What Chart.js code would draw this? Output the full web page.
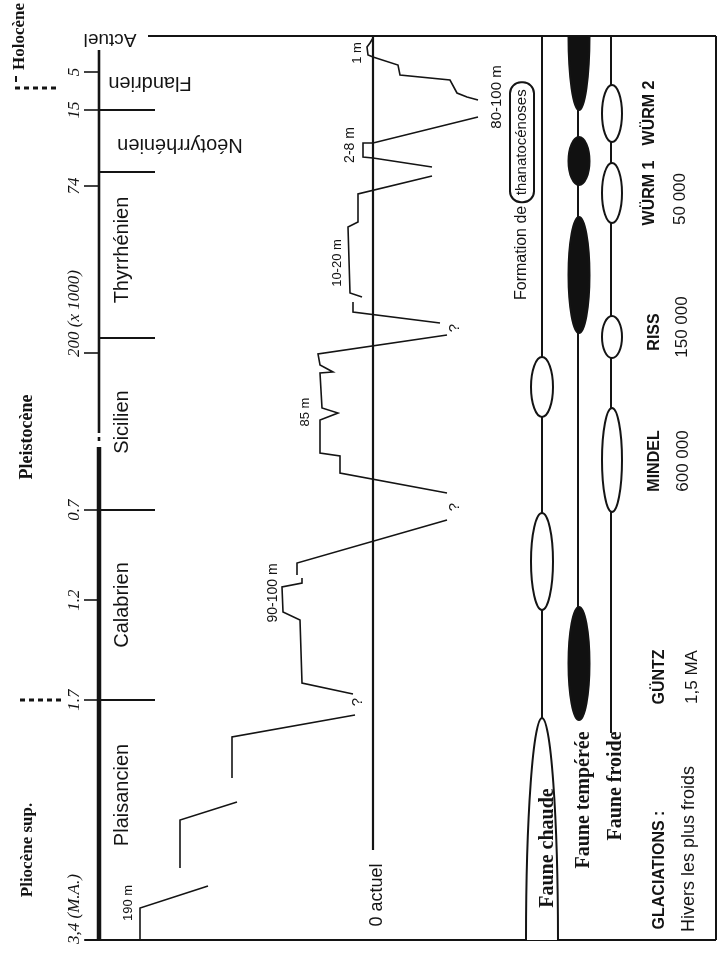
<!DOCTYPE html>
<html><head><meta charset="utf-8">
<script src="https://cdn.jsdelivr.net/npm/chart.js@4.4.1/dist/chart.umd.min.js"></script>
<style>html,body{margin:0;padding:0;background:#fff;}canvas{display:block;}</style>
</head><body>
<canvas id="c" width="721" height="962" style="width:721px;height:962px"></canvas>
<script>
// Units: x = schematic sea level relative to present (0 = "0 actuel", + = higher), y = schematic position below "Actuel" (0 = present)
const timeTickPos    = [36, 74, 150, 317, 474, 564, 664, 904];
const timeTickLabels = ['5', '15', '74', '200 (x 1000)', '0.7', '1.2', '1.7', '3,4 (M.A.)'];
const stageBounds    = [74, 136, 302, 474, 664];
const stageNames     = ['Flandrien', 'Néotyrrhénien', 'Thyrrhénien', 'Sicilien', 'Calabrien', 'Plaisancien'];
const stageCenters   = [47, 109, 214, 386, 569, 759];
const epochNames     = ['Holocène', 'Pleistocène', 'Pliocène sup.'];
const epochBounds    = [52, 664];

// sea-level curve pieces [level, position]
const segPlaisancien1 = [[233,904],[233,872],[165,850]];
const segPlaisancien2 = [[193,832],[193,784],[136,766]];
const segPlaisancien3 = [[141,742],[141,701],[18,679]];
const segCalabrien1   = [[20,658],[71,647],[73,584],[90,576],[91,551],[71,547],[71,542]];
const segCalabrien2   = [[76,539],[76,527],[-74,484]];
const segSicilien     = [[-74,457],[33,437],[33,420],[53,417],[53,384],[35,377],[51,372],[53,337],[40,336],[53,329],[55,318],[-74,299]];
const segTyrrhenien1  = [[-67,287],[20,276],[20,266]];
const segTyrrhenien2  = [[11,261],[23,257],[25,191],[15,186],[15,158],[-59,140]];
const segNeotyrrh     = [[-59,131],[0,122],[10,121],[10,107],[0,107],[-105,81]];
const segFlandrien    = [[-105,64],[-94,61],[-84,57],[-77,44],[-27,39],[-25,29],[0,21],[5,19],[6,11],[3,7],[0,2]];
const levelLabels     = ['190 m', '90-100 m', '85 m', '10-20 m', '2-8 m', '1 m', '80-100 m'];

// fauna occurrences [from, to] along the time axis
const fauneChaude   = [[321,381],[477,574],[682,904]];
const fauneTemperee = [[0,74],[101,149],[181,297],[571,684]];
const fauneFroide   = [[49,106],[127,187],[280,322],[372,476]];
const glaciationNames = ['WÜRM 2', 'WÜRM 1', 'RISS', 'MINDEL', 'GÜNTZ'];
const glaciationPos   = [77, 157, 296, 425, 641];
const glaciationAges  = ['50 000', '150 000', '600 000', '1,5 MA'];
const glaciationAgePos= [163, 291, 425, 641];

const INK = '#141414';
const pts = a => a.map(p => ({x:p[0], y:p[1]}));
const segs = [segPlaisancien1, segPlaisancien2, segPlaisancien3, segCalabrien1, segCalabrien2,
              segSicilien, segTyrrhenien1, segTyrrhenien2, segNeotyrrh, segFlandrien];
const datasets = segs.map(s => ({data: pts(s), showLine:true, borderColor:INK, borderWidth:1.6, pointRadius:0, tension:0}));
datasets.push({data: pts([[0,0],[0,814]]), showLine:true, borderColor:INK, borderWidth:2.2, pointRadius:0});
datasets.push({data: pts([[-169,0],[-169,904]]), showLine:true, borderColor:INK, borderWidth:2, pointRadius:0});
datasets.push({data: pts([[-205,0],[-205,684]]), showLine:true, borderColor:INK, borderWidth:2, pointRadius:0});
datasets.push({data: pts([[-238,0],[-238,697]]), showLine:true, borderColor:INK, borderWidth:2, pointRadius:0});

function txt(ctx, s, x, y, rot, font, align, base){
  ctx.save(); ctx.translate(x, y); ctx.rotate(rot || 0);
  ctx.font = font; ctx.textAlign = align || 'center'; ctx.textBaseline = base || 'middle';
  ctx.fillStyle = INK; ctx.fillText(s, 0, 0); ctx.restore();
}
const UP = -Math.PI/2, FLIP = Math.PI;
const SANS = '"Liberation Sans", Arial, sans-serif';
const SERIF = '"Liberation Serif", "Times New Roman", serif';

const deco = {
  id: 'deco',
  beforeDatasetsDraw(chart){
    const ctx = chart.ctx, xs = chart.scales.x, ys = chart.scales.y;
    const X = v => xs.getPixelForValue(v), Y = v => ys.getPixelForValue(v);
    const line = (x1,y1,x2,y2,w,dash) => { ctx.save(); ctx.strokeStyle=INK; ctx.lineWidth=w; ctx.setLineDash(dash||[]);
      ctx.beginPath(); ctx.moveTo(X(x1),Y(y1)); ctx.lineTo(X(x2),Y(y2)); ctx.stroke(); ctx.restore(); };
    // frame
    line(225,0,-343,0,2);
    line(-343,0,-343,904,2);
    line(288,904,-343,904,2);
    // time axis
    line(274,14,274,397,2.6);
    line(274,401,274,405,2.6);
    line(274,411,274,904,4.5);
    timeTickPos.forEach(p => line(289,p,274,p,1.6));
    stageBounds.forEach(p => line(274,p,218,p,2));
    line(358,epochBounds[0],317,epochBounds[0],3,[5,4]);
    line(353,epochBounds[1],311,epochBounds[1],3,[5,4]);
    line(357,40,357,46,2);
  },
  afterDatasetsDraw(chart){
    const ctx = chart.ctx, xs = chart.scales.x, ys = chart.scales.y, ca = chart.chartArea;
    const X = v => xs.getPixelForValue(v), Y = v => ys.getPixelForValue(v);
    // fauna ellipses
    const ell = (cx, span, rx, filled) => {
      let c, ry;
      if (span[0] <= 0) { c = span[0]; ry = span[1]-span[0]; }
      else if (span[1] >= 904) { c = span[1]; ry = span[1]-span[0]; }
      else { c = (span[0]+span[1])/2; ry = (span[1]-span[0])/2; }
      ctx.save(); ctx.beginPath(); ctx.rect(ca.left, ca.top, ca.right-ca.left, ca.bottom-ca.top); ctx.clip();
      ctx.beginPath();
      ctx.ellipse(X(cx), Y(c), Math.abs(X(cx+rx)-X(cx)), Math.abs(Y(c+ry)-Y(c)), 0, 0, Math.PI*2);
      ctx.fillStyle = filled ? '#111' : '#fff'; ctx.fill();
      ctx.strokeStyle = INK; ctx.lineWidth = 2; ctx.stroke(); ctx.restore();
    };
    fauneChaude.forEach((s,i) => ell(-169, s, i === 2 ? 16 : 11, false));
    fauneTemperee.forEach(s => ell(-206, s, 10.5, true));
    fauneFroide.forEach(s => ell(-239, s, 10, false));

    // axis labels
    txt(ctx, 'Actuel', X(263), Y(3), FLIP, '19px '+SANS);
    timeTickLabels.forEach((l,i) => {
      const long = l.length > 4;
      txt(ctx, l, X(298), Y(timeTickPos[i] + (long ? 4 : 0)), UP, 'italic 17px '+SERIF, long ? 'left' : 'center');
    });
    txt(ctx, stageNames[0], X(223), Y(stageCenters[0]), FLIP, '20px '+SANS);
    txt(ctx, stageNames[1], X(193), Y(stageCenters[1]), FLIP, '20px '+SANS);
    for (let i = 2; i < stageNames.length; i++) txt(ctx, stageNames[i], X(251), Y(stageCenters[i]), UP, '20px '+SANS);
    txt(ctx, epochNames[0], X(353), Y(34), UP, 'bold 17px '+SERIF, 'left');
    txt(ctx, epochNames[1], X(346), Y(401), UP, 'bold 18px '+SERIF);
    txt(ctx, epochNames[2], X(345), Y(814), UP, 'bold 17px '+SERIF);

    // sea-level annotations
    const lv = [[245,867,13],[100,557,14],[68,376,13],[36,227,13],[23,109,14],[16,17,13],[-124,61,15]];
    levelLabels.forEach((l,i) => txt(ctx, l, X(lv[i][0]), Y(lv[i][1]), UP, lv[i][2]+'px '+SANS));
    [[15,666],[-82,471],[-82,292]].forEach(q => txt(ctx, '?', X(q[0]), Y(q[1]), UP, '15px '+SANS));
    txt(ctx, '0 actuel', X(-4), Y(859), UP, '18px '+SANS);

    // "Formation de thanatocénoses"
    ctx.save();
    ctx.translate(X(-149), Y(264)); ctx.rotate(UP);
    ctx.font = '16px '+SANS; ctx.textBaseline = 'middle'; ctx.textAlign = 'left'; ctx.fillStyle = INK;
    const a = 'Formation de ', w1 = ctx.measureText(a).width;
    ctx.fillText(a, 0, 0);
    ctx.font = '15px "Liberation Sans Narrow", '+SANS;
    const b = 'thanatocénoses', w2 = ctx.measureText(b).width;
    ctx.fillText(b, w1 + 6, 0);
    ctx.beginPath(); ctx.lineWidth = 2; ctx.strokeStyle = INK;
    ctx.roundRect(w1 - 1, -12, w2 + 14, 24, 11); ctx.stroke();
    ctx.restore();

    // fauna labels
    txt(ctx, 'Faune chaude', X(-175), Y(812), UP, 'bold 20px '+SERIF);
    txt(ctx, 'Faune tempérée', X(-211), Y(764), UP, 'bold 20px '+SERIF);
    txt(ctx, 'Faune froide', X(-243), Y(750), UP, 'bold 20px '+SERIF);

    // glaciations
    const gx = [-277, -277, -282, -282, -287];
    glaciationNames.forEach((g,i) => txt(ctx, g, X(gx[i]), Y(glaciationPos[i]), UP, 'bold 16px '+SANS));
    const ax = [-307, -309, -310, -319];
    glaciationAges.forEach((g,i) => txt(ctx, g, X(ax[i]), Y(glaciationAgePos[i]), UP, '17px '+SANS));
    txt(ctx, 'GLACIATIONS :', X(-287), Y(834), UP, 'bold 16px '+SANS);
    txt(ctx, 'Hivers les plus froids', X(-316), Y(813), UP, '18px '+SANS);
  }
};

new Chart(document.getElementById('c'), {
  type: 'scatter',
  data: { datasets },
  options: {
    responsive: false, animation: false, devicePixelRatio: 1,
    layout: { padding: { left: 0, right: 5, top: 36, bottom: 22 } },
    scales: {
      x: { type:'linear', min:-343, max:373, reverse:true, display:false },
      y: { type:'linear', min:0, max:904, reverse:true, display:false }
    },
    plugins: { legend:{display:false}, tooltip:{enabled:false} },
    events: []
  },
  plugins: [deco]
});
</script>
</body></html>
